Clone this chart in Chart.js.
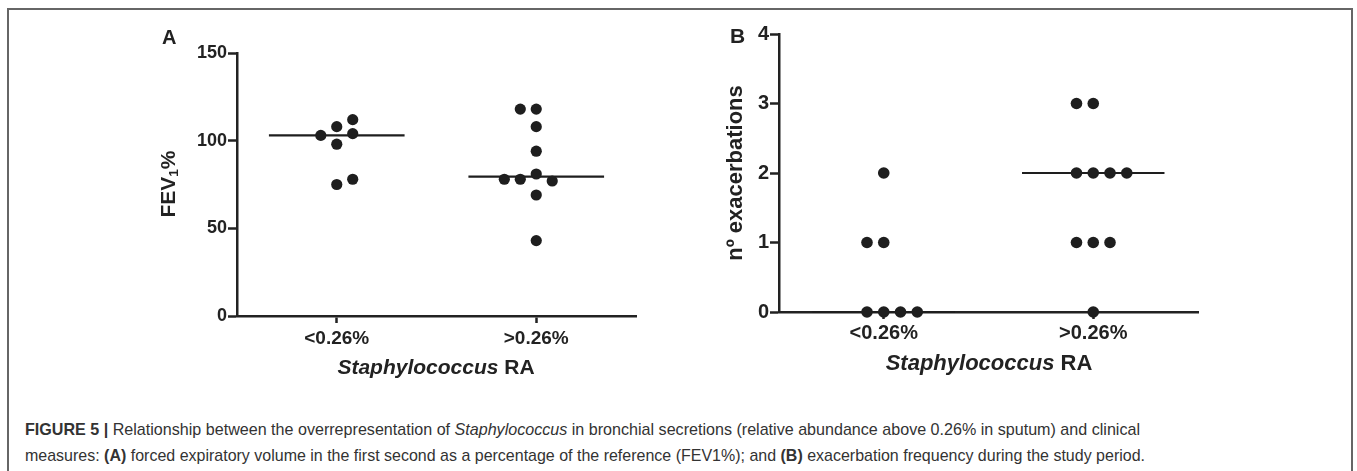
<!DOCTYPE html>
<html>
<head>
<meta charset="utf-8">
<script src="https://cdn.jsdelivr.net/npm/chart.js@4"></script>
<style>
  html, body { margin: 0; padding: 0; background: #fff; }
  #wrap { position: relative; width: 1357px; height: 471px; overflow: hidden; background: #fff; font-family: "Liberation Sans", Arial, sans-serif; color: #222; }
  #frame { position: absolute; left: 7px; top: 8px; width: 1346px; height: 500px; border: 2px solid #666; border-bottom: none; box-sizing: border-box; }
  canvas { position: absolute; }
  .lbl { position: absolute; font-weight: bold; white-space: nowrap; line-height: 1; color: #222; }
  .rot { transform: translate(-50%, -50%) rotate(-90deg); }
  .ctr { transform: translate(-50%, -50%); }
  .cap { position: absolute; left: 25px; white-space: nowrap; font-family: "Liberation Sans Narrow", "Liberation Sans", Arial, sans-serif; font-size: 17px; line-height: 1; color: #333; transform-origin: 0 0; }
  sub { font-size: 65%; vertical-align: -0.25em; }
</style>
</head>
<body>
<div id="wrap">
  <div id="frame"></div>
  <canvas id="cA" width="500" height="340" style="left:150px; top:20px; width:500px; height:340px;"></canvas>
  <canvas id="cB" width="520" height="350" style="left:700px; top:10px; width:520px; height:350px;"></canvas>

  <div class="lbl" style="left:162px; top:27px; font-size:20px;">A</div>
  <div class="lbl" style="left:730px; top:25px; font-size:21px;">B</div>

  <div class="lbl rot" style="left:169px; top:184px; font-size:21px;">FEV<sub>1</sub>%</div>
  <div class="lbl rot" style="left:735px; top:173px; font-size:22px;">nº exacerbations</div>

  <div class="lbl ctr" style="left:436px; top:366px; font-size:21px;"><i>Staphylococcus</i> RA</div>
  <div class="lbl ctr" style="left:989px; top:363px; font-size:22px;"><i>Staphylococcus</i> RA</div>

  <div class="cap" id="cap1" style="top:421px;"><b>FIGURE 5 |</b> Relationship between the overrepresentation of <i>Staphylococcus</i> in bronchial secretions (relative abundance above 0.26% in sputum) and clinical</div>
  <div class="cap" id="cap2" style="top:447px;">measures: <b>(A)</b> forced expiratory volume in the first second as a percentage of the reference (FEV1%); and <b>(B)</b> exacerbation frequency during the study period.</div>
</div>

<script>
// ---- data ----
const categories = ['<0.26%', '>0.26%'];

// Panel A: FEV1 % per patient
const fevLow      = [112, 108, 104, 103, 98, 78, 75];
const fevLowCol   = [1, 0, 1, -1, 0, 1, 0];          // column slot in the scatter
const fevHigh     = [118, 118, 108, 94, 81, 78, 78, 77, 69, 43];
const fevHighCol  = [-1, 0, 0, 0, 0, -2, -1, 1, 0, 0];
const fevTicks    = [0, 50, 100, 150];

// Panel B: number of exacerbations per patient
const exaLow      = [2, 1, 1, 0, 0, 0, 0];
const exaLowCol   = [0, -1, 0, -1, 0, 1, 2];
const exaHigh     = [3, 3, 2, 2, 2, 2, 1, 1, 1, 0];
const exaHighCol  = [-1, 0, -1, 0, 1, 2, -1, 0, 1, 0];
const exaTicks    = [0, 1, 2, 3, 4];

// ---- helpers ----
const SLOT = 0.08;      // horizontal spread between adjacent dots (category units)
const HALF = 0.34;      // half width of the median bar
const INK = '#1e1e1e';

function median(arr) {
  const s = [...arr].sort((a, b) => a - b);
  const n = s.length;
  return n % 2 ? s[(n - 1) / 2] : (s[n / 2 - 1] + s[n / 2]) / 2;
}
function pts(vals, cols, ci) {
  return vals.map((v, i) => ({ x: ci + cols[i] * SLOT, y: v }));
}
function dotSet(vals, cols, ci, r) {
  return { type: 'scatter', data: pts(vals, cols, ci), pointRadius: r, pointHoverRadius: r,
           backgroundColor: INK, borderWidth: 0, showLine: false, clip: false, order: 1 };
}
function medSet(vals, ci) {
  const m = median(vals);
  return { type: 'line', data: [{ x: ci - HALF, y: m }, { x: ci + HALF, y: m }],
           borderColor: INK, borderWidth: 2.2, pointRadius: 0, showLine: true, clip: false, order: 2 };
}

function makeChart(id, sets, yTicks, cfg) {
  return new Chart(document.getElementById(id), {
    type: 'scatter',
    data: { datasets: sets },
    options: {
      responsive: false, animation: false, events: [],
      layout: { padding: { top: cfg.padTop, right: cfg.padRight, left: 0, bottom: 0 } },
      plugins: { legend: { display: false }, tooltip: { enabled: false } },
      scales: {
        x: {
          type: 'linear', min: -0.5, max: 1.5,
          afterBuildTicks: s => { s.ticks = categories.map((c, i) => ({ value: i })); },
          afterFit: s => { s.height = cfg.xH; },
          ticks: { callback: v => categories[v], color: '#222', padding: cfg.xPad,
                   font: { family: 'Liberation Sans', weight: 'bold', size: cfg.xFont }, maxRotation: 0, autoSkip: false },
          grid: { display: true, drawOnChartArea: false, drawTicks: true, tickLength: 7, tickWidth: 2.5, tickColor: '#222', color: '#222' },
          border: { display: true, color: '#222', width: 2.5 }
        },
        y: {
          type: 'linear', min: yTicks[0], max: yTicks[yTicks.length - 1],
          afterBuildTicks: s => { s.ticks = yTicks.map(v => ({ value: v })); },
          afterFit: s => { s.width = cfg.yW; },
          ticks: { color: '#222', padding: 1, font: { family: 'Liberation Sans', weight: 'bold', size: cfg.yFont } },
          grid: { display: true, drawOnChartArea: false, drawTicks: true, tickLength: 9, tickWidth: 2.5, tickColor: '#222', color: '#222' },
          border: { display: true, color: '#222', width: 2.5 }
        }
      }
    }
  });
}

makeChart('cA', [
  medSet(fevLow, 0), medSet(fevHigh, 1),
  dotSet(fevLow, fevLowCol, 0, 5.6), dotSet(fevHigh, fevHighCol, 1, 5.6)
], fevTicks, { padTop: 33, padRight: 14, xH: 44, yW: 87, xPad: 4, xFont: 19, yFont: 18 });

makeChart('cB', [
  medSet(exaLow, 0), medSet(exaHigh, 1),
  dotSet(exaLow, exaLowCol, 0, 5.8), dotSet(exaHigh, exaHighCol, 1, 5.8)
], exaTicks, { padTop: 24, padRight: 22, xH: 48, yW: 79, xPad: 2, xFont: 20, yFont: 20 });

// fit caption lines to their measured width in the figure
function fit(id, target) {
  const el = document.getElementById(id);
  const w = el.getBoundingClientRect().width;
  el.style.transform = 'scaleX(' + (target / w) + ')';
}
fit('cap1', 1115);
fit('cap2', 1120);
</script>
</body>
</html>
